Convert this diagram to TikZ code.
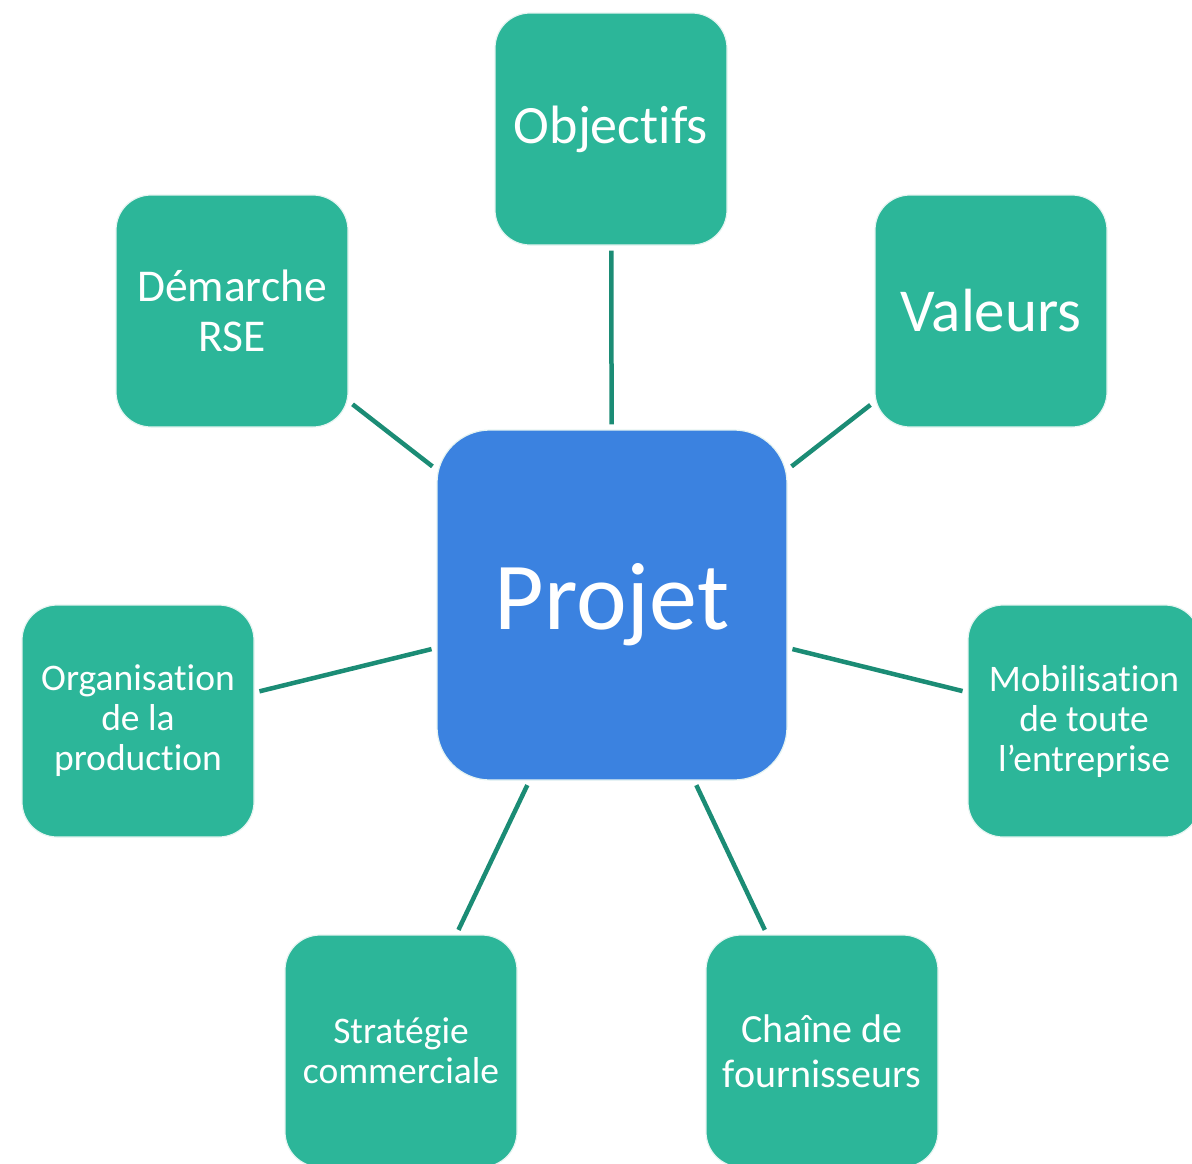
\documentclass[tikz,border=0pt]{standalone}
\usepackage{fontspec}
\setmainfont{Carlito}[Ligatures={NoCommon,NoContextual}]
\definecolor{boxgreen}{HTML}{2CB699}
\definecolor{boxblue}{HTML}{3B82E0}
\definecolor{linegreen}{HTML}{1B8C75}
\definecolor{edgelight}{HTML}{E6F4F1}
\tikzset{
  sat/.style={rectangle, minimum width=232pt, minimum height=232pt, rounded corners=35pt,
    fill=boxgreen, draw=edgelight, line width=1.2pt, text=white, align=center, inner sep=0pt},
  hub/.style={rectangle, minimum width=350pt, minimum height=350pt, rounded corners=53pt,
    fill=boxblue, draw=edgelight, line width=1.2pt, text=white, align=center, inner sep=0pt},
  conn/.style={draw=linegreen, line width=4.5pt, shorten <=5pt, shorten >=5pt}
}
\begin{document}
\begin{tikzpicture}[x=1pt,y=-1pt]
\useasboundingbox (0,0) rectangle (1192,1163);
\clip (0,0) rectangle (1192,1163);
\node[hub, font=\fontsize{96}{100}\selectfont] (proj) at (612,605) {Projet};
\node[sat, font=\fontsize{54}{58}\selectfont] (obj) at (611,129) {Object\kern0pt ifs};
\node[sat, font=\fontsize{45.5}{50}\selectfont] (dem) at (232,311) {Démarche\\RSE};
\node[sat, font=\fontsize{61}{64}\selectfont] (val) at (991,311) {Valeurs};
\node[sat, font=\fontsize{37.5}{40}\selectfont] (org) at (138,721) {Organisat\kern0pt ion\\de la\\production};
\node[sat, font=\fontsize{37.5}{40}\selectfont] (mob) at (1084,721) {Mobilisat\kern0pt ion\\de toute\\l’entreprise};
\node[sat, font=\fontsize{37.5}{40}\selectfont] (str) at (401,1051) {Stratégie\\commerciale};
\node[sat, font=\fontsize{40}{45}\selectfont] (cha) at (822,1051) {Chaîne de\\fournisseurs};
\draw[conn] (obj) -- (proj);
\draw[conn] (dem) -- (proj);
\draw[conn] (val) -- (proj);
\draw[conn] (org) -- (proj);
\draw[conn] (mob) -- (proj);
\draw[conn] (str) -- (proj);
\draw[conn] (cha) -- (proj);
\end{tikzpicture}
\end{document}
